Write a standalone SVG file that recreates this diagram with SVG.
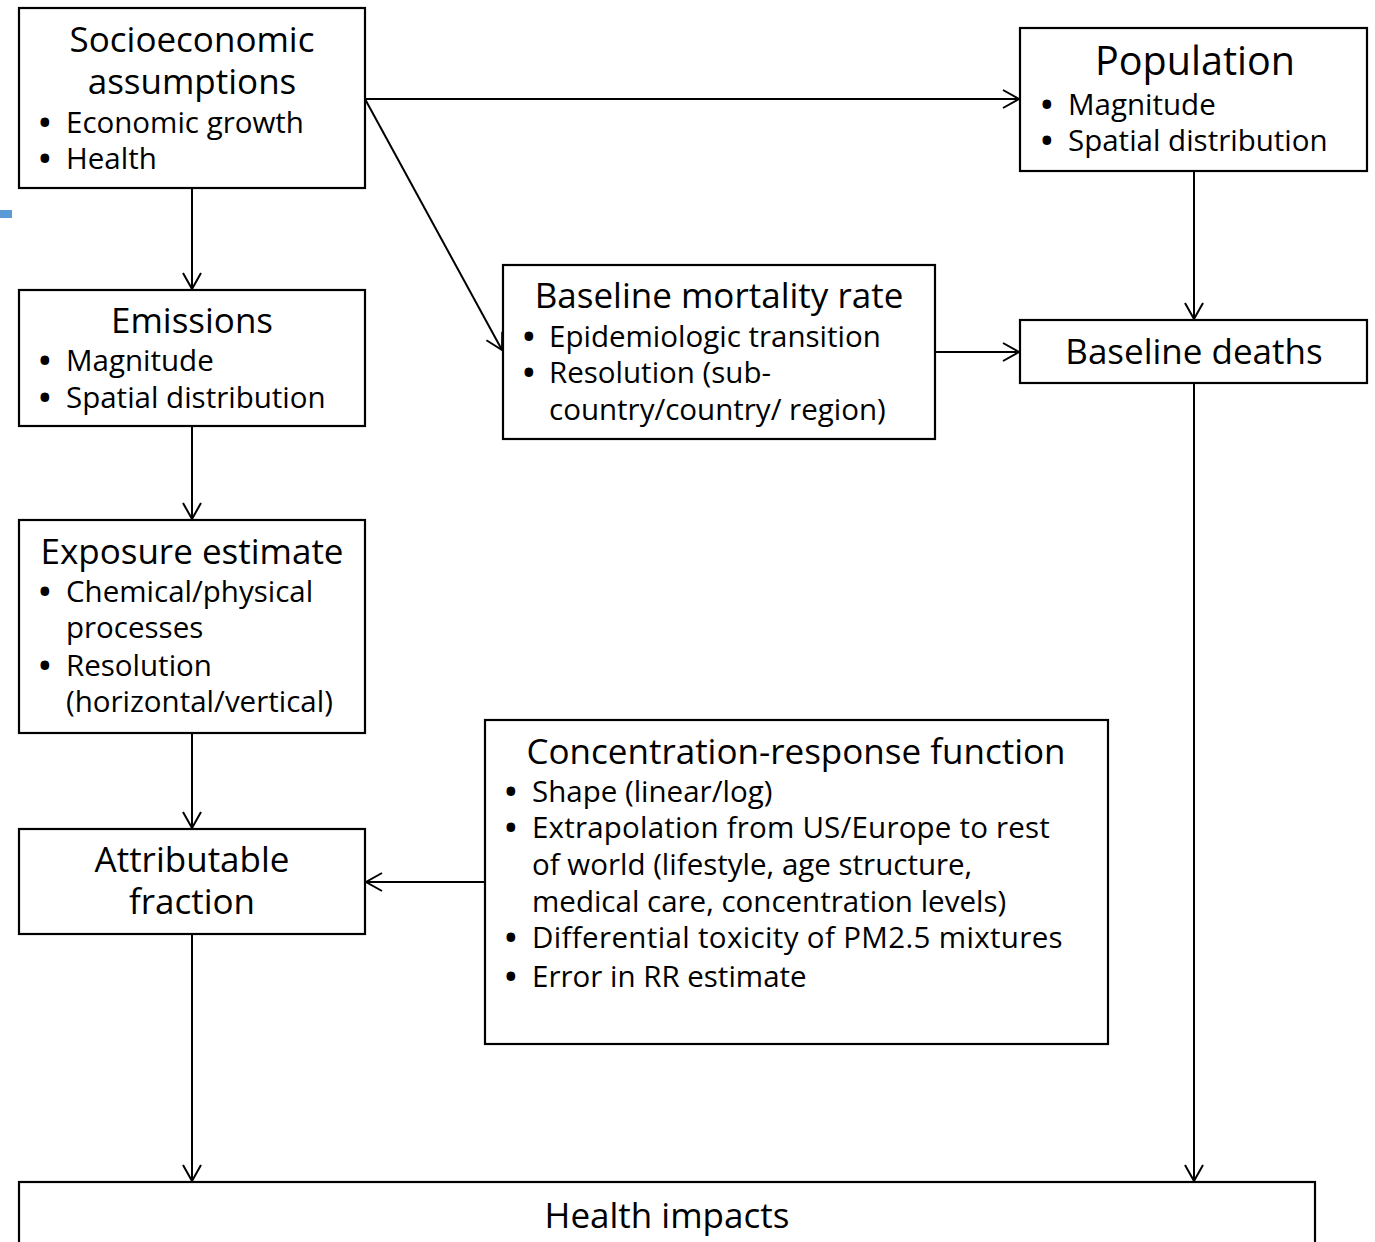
<svg xmlns="http://www.w3.org/2000/svg" width="1375" height="1242" viewBox="0 0 1375 1242">
<style>
  .box { fill: #ffffff; stroke: #000000; stroke-width: 2.2; }
  text { font-family: "Open Sans", "Noto Sans", "Liberation Sans", sans-serif; fill: #000000; }
  .t { font-size: 35px; text-anchor: middle; }
  .tp { font-size: 39.5px; text-anchor: middle; }
  .b { font-size: 29.5px; }
  .d { font-size: 31px; font-weight: bold; }
  .conn { stroke: #000000; stroke-width: 2; fill: none; marker-end: url(#arr); }
</style>
<defs>
  <marker id="arr" viewBox="0 0 20 20" refX="18" refY="10" markerWidth="20" markerHeight="20" markerUnits="userSpaceOnUse" orient="auto">
    <path d="M2,1 L18,10 L2,19" fill="none" stroke="#000000" stroke-width="2"/>
  </marker>
</defs>
<rect width="1375" height="1242" fill="#ffffff"/>
<rect x="0" y="210" width="12" height="8" fill="#5b9bd5"/>

<g id="connectors">
  <line class="conn" x1="365" y1="99" x2="1019" y2="99"/>
  <line class="conn" x1="365" y1="99" x2="502" y2="350"/>
  <line class="conn" x1="192" y1="188" x2="192" y2="289"/>
  <line class="conn" x1="1194" y1="171" x2="1194" y2="319"/>
  <line class="conn" x1="935" y1="352" x2="1019" y2="352"/>
  <line class="conn" x1="192" y1="426" x2="192" y2="519"/>
  <line class="conn" x1="192" y1="733" x2="192" y2="828"/>
  <line class="conn" x1="485" y1="882" x2="366" y2="882"/>
  <line class="conn" x1="192" y1="934" x2="192" y2="1181"/>
  <line class="conn" x1="1194" y1="383" x2="1194" y2="1181"/>
</g>

<g id="socioeconomic">
  <rect class="box" x="19" y="8" width="346" height="180"/>
  <text class="t" x="192" y="52">Socioeconomic</text>
  <text class="t" x="192" y="94">assumptions</text>
  <text class="b" x="39" y="133"><tspan class="d">•</tspan><tspan x="66">Economic growth</tspan></text>
  <text class="b" x="39" y="169"><tspan class="d">•</tspan><tspan x="66">Health</tspan></text>
</g>

<g id="population">
  <rect class="box" x="1020" y="28" width="347" height="143"/>
  <text class="tp" x="1195" y="75">Population</text>
  <text class="b" x="1041" y="115"><tspan class="d">•</tspan><tspan x="1068">Magnitude</tspan></text>
  <text class="b" x="1041" y="151"><tspan class="d">•</tspan><tspan x="1068">Spatial distribution</tspan></text>
</g>

<g id="emissions">
  <rect class="box" x="19" y="290" width="346" height="136"/>
  <text class="t" x="192" y="333">Emissions</text>
  <text class="b" x="39" y="371"><tspan class="d">•</tspan><tspan x="66">Magnitude</tspan></text>
  <text class="b" x="39" y="408"><tspan class="d">•</tspan><tspan x="66">Spatial distribution</tspan></text>
</g>

<g id="baseline-mortality">
  <rect class="box" x="503" y="265" width="432" height="174"/>
  <text class="t" x="719" y="308">Baseline mortality rate</text>
  <text class="b" x="523" y="347"><tspan class="d">•</tspan><tspan x="549">Epidemiologic transition</tspan></text>
  <text class="b" x="523" y="383"><tspan class="d">•</tspan><tspan x="549">Resolution (sub-</tspan></text>
  <text class="b" x="549" y="420">country/country/ region)</text>
</g>

<g id="baseline-deaths">
  <rect class="box" x="1020" y="320" width="347" height="63"/>
  <text class="t" x="1194" y="364">Baseline deaths</text>
</g>

<g id="exposure">
  <rect class="box" x="19" y="520" width="346" height="213"/>
  <text class="t" x="192" y="564">Exposure estimate</text>
  <text class="b" x="39" y="602"><tspan class="d">•</tspan><tspan x="66">Chemical/physical</tspan></text>
  <text class="b" x="66" y="638">processes</text>
  <text class="b" x="39" y="676"><tspan class="d">•</tspan><tspan x="66">Resolution</tspan></text>
  <text class="b" x="66" y="712">(horizontal/vertical)</text>
</g>

<g id="concentration-response">
  <rect class="box" x="485" y="720" width="623" height="324"/>
  <text class="t" x="796" y="764">Concentration-response function</text>
  <text class="b" x="505" y="802"><tspan class="d">•</tspan><tspan x="532">Shape (linear/log)</tspan></text>
  <text class="b" x="505" y="838" letter-spacing="0.2"><tspan class="d">•</tspan><tspan x="532">Extrapolation from US/Europe to rest</tspan></text>
  <text class="b" x="532" y="875">of world (lifestyle, age structure,</text>
  <text class="b" x="532" y="912">medical care, concentration levels)</text>
  <text class="b" x="505" y="948" letter-spacing="0.35"><tspan class="d">•</tspan><tspan x="532">Differential toxicity of PM2.5 mixtures</tspan></text>
  <text class="b" x="505" y="987"><tspan class="d">•</tspan><tspan x="532">Error in RR estimate</tspan></text>
</g>

<g id="attributable-fraction">
  <rect class="box" x="19" y="829" width="346" height="105"/>
  <text class="t" x="192" y="872">Attributable</text>
  <text class="t" x="192" y="914">fraction</text>
</g>

<g id="health-impacts">
  <rect class="box" x="19" y="1182" width="1296" height="80"/>
  <text class="t" x="667" y="1228">Health impacts</text>
</g>
</svg>
